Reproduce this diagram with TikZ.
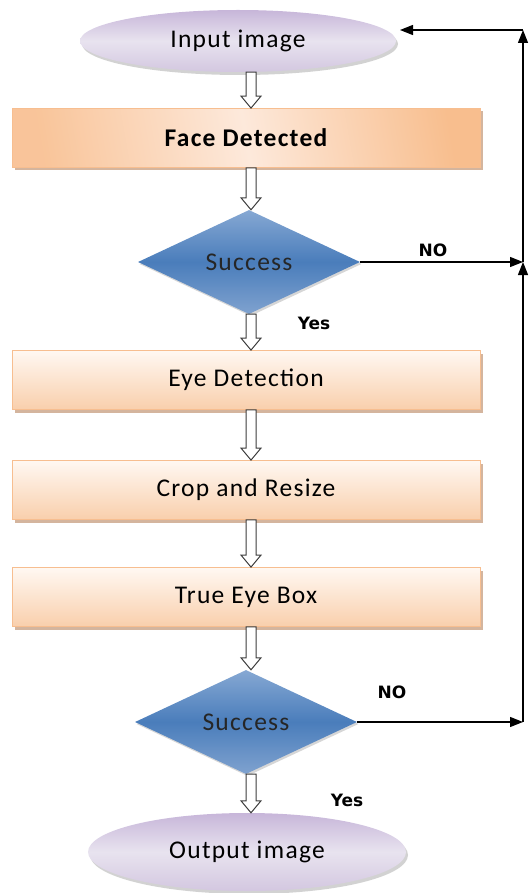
\documentclass[tikz,border=0pt]{standalone}
\usepackage{fontspec}
\setmainfont{Carlito}[LetterSpace=5.0]
\newfontfamily\tagfont{DejaVu Sans}
\usetikzlibrary{shapes.geometric,arrows.meta,shadows,calc}

\definecolor{peachline}{HTML}{F7BE90}
\definecolor{peachtop}{HTML}{FFF8F2}
\definecolor{peachbot}{HTML}{F9CFAC}
\definecolor{peachdeep}{HTML}{F8BE8E}
\definecolor{peachpale}{HTML}{FDE9DB}
\definecolor{peachshade}{HTML}{C9A286}
\definecolor{lavtop}{HTML}{C7B6D9}
\definecolor{lavmid}{HTML}{E8E3EF}
\definecolor{lavbot}{HTML}{D3C7E0}
\definecolor{bluetop}{HTML}{86A8D3}
\definecolor{bluemid}{HTML}{4A7DBB}
\definecolor{bluebot}{HTML}{7FA2CF}
\definecolor{outline}{HTML}{3C3C3C}

\def\ax{251pt}

% hollow block arrow from the bottom of one node to the top of the next
\newcommand\hollowarrow[2]{%
  \draw[hollow] let \p1=(#1), \p2=(#2) in
    (\ax-5pt,\y1) -- (\ax-5pt,\y2+12pt) -- (\ax-10pt,\y2+12pt) -- (\ax,\y2)
    -- (\ax+10pt,\y2+12pt) -- (\ax+5pt,\y2+12pt) -- (\ax+5pt,\y1) -- cycle;}

\tikzset{
  txt/.style={font=\fontsize{25.5}{28}\selectfont, text=black},
  terminal/.style={txt, ellipse, inner sep=0pt, draw=none,
    top color=lavtop, bottom color=lavbot, middle color=lavmid,
    drop shadow={shadow xshift=2pt, shadow yshift=-3pt, fill=black!35, opacity=.5}},
  process/.style={txt, rectangle, inner sep=0pt, draw=peachline, line width=.8pt,
    minimum width=468pt, minimum height=59pt,
    top color=peachtop, bottom color=peachbot,
    drop shadow={shadow xshift=3pt, shadow yshift=-3pt, fill=peachshade, opacity=.8}},
  decision/.style={txt, diamond, inner sep=0pt, draw=none,
    minimum width=222pt, minimum height=104pt,
    top color=bluetop, bottom color=bluebot, middle color=bluemid,
    text=black!85,
    drop shadow={shadow xshift=1.5pt, shadow yshift=-2pt, fill=black!40, opacity=.4}},
  tag/.style={font=\tagfont\bfseries\fontsize{17}{19}\selectfont},
  hollow/.style={draw=outline, line width=1pt, fill=white, line join=miter},
  link/.style={draw=black, line width=1.3pt, -{Triangle[length=13pt,width=10pt]}}
}

\begin{document}
\begin{tikzpicture}[x=1pt,y=-1pt]
\useasboundingbox (0,0) rectangle (528,893);

% flow nodes
\node[terminal, minimum width=316pt, minimum height=62pt] (in) at (238,41) {Input image};
\node[process, top color=peachdeep, bottom color=peachdeep!85!peachpale,
      middle color=peachpale, shading angle=-80,
      font=\fontsize{25.5}{28}\selectfont\bfseries] (face) at (246,138) {Face Detected};
\node[decision] (d1) at (249,262) {Success};
\node[process] (eye) at (246,380) {Eye Detection};
\node[process] (crop) at (246,490) {Crop and Resize};
\node[process] (box) at (246,597) {True Eye Box};
\node[decision] (d2) at (246,722) {Success};
\node[terminal, minimum width=318pt, minimum height=78pt] (out) at (247,852) {Output image};

% branch labels
\node[tag] (no1) at (433,250) {NO};
\node[tag] (yes1) at (314,323) {Yes};
\node[tag] (no2) at (392,692) {NO};
\node[tag] (yes2) at (347,800) {Yes};

% main flow
\hollowarrow{in.south}{face.north}
\hollowarrow{face.south}{d1.north}
\hollowarrow{d1.south}{eye.north}
\hollowarrow{eye.south}{crop.north}
\hollowarrow{crop.south}{box.north}
\hollowarrow{box.south}{d2.north}
\hollowarrow{d2.south}{out.north}

% feedback loop on the right
\coordinate (j1) at (523,262);
\coordinate (j2) at (523,722);
\coordinate (top) at (523,30);
\coordinate (back) at (400,30);
\draw[link] (d1.east) -- (j1);
\draw[link] (d2.east) -- (j2);
\draw[link] (j2) -- (j1);
\draw[link] (j1) -- (top);
\draw[link] (top) -- (back);
\end{tikzpicture}
\end{document}
